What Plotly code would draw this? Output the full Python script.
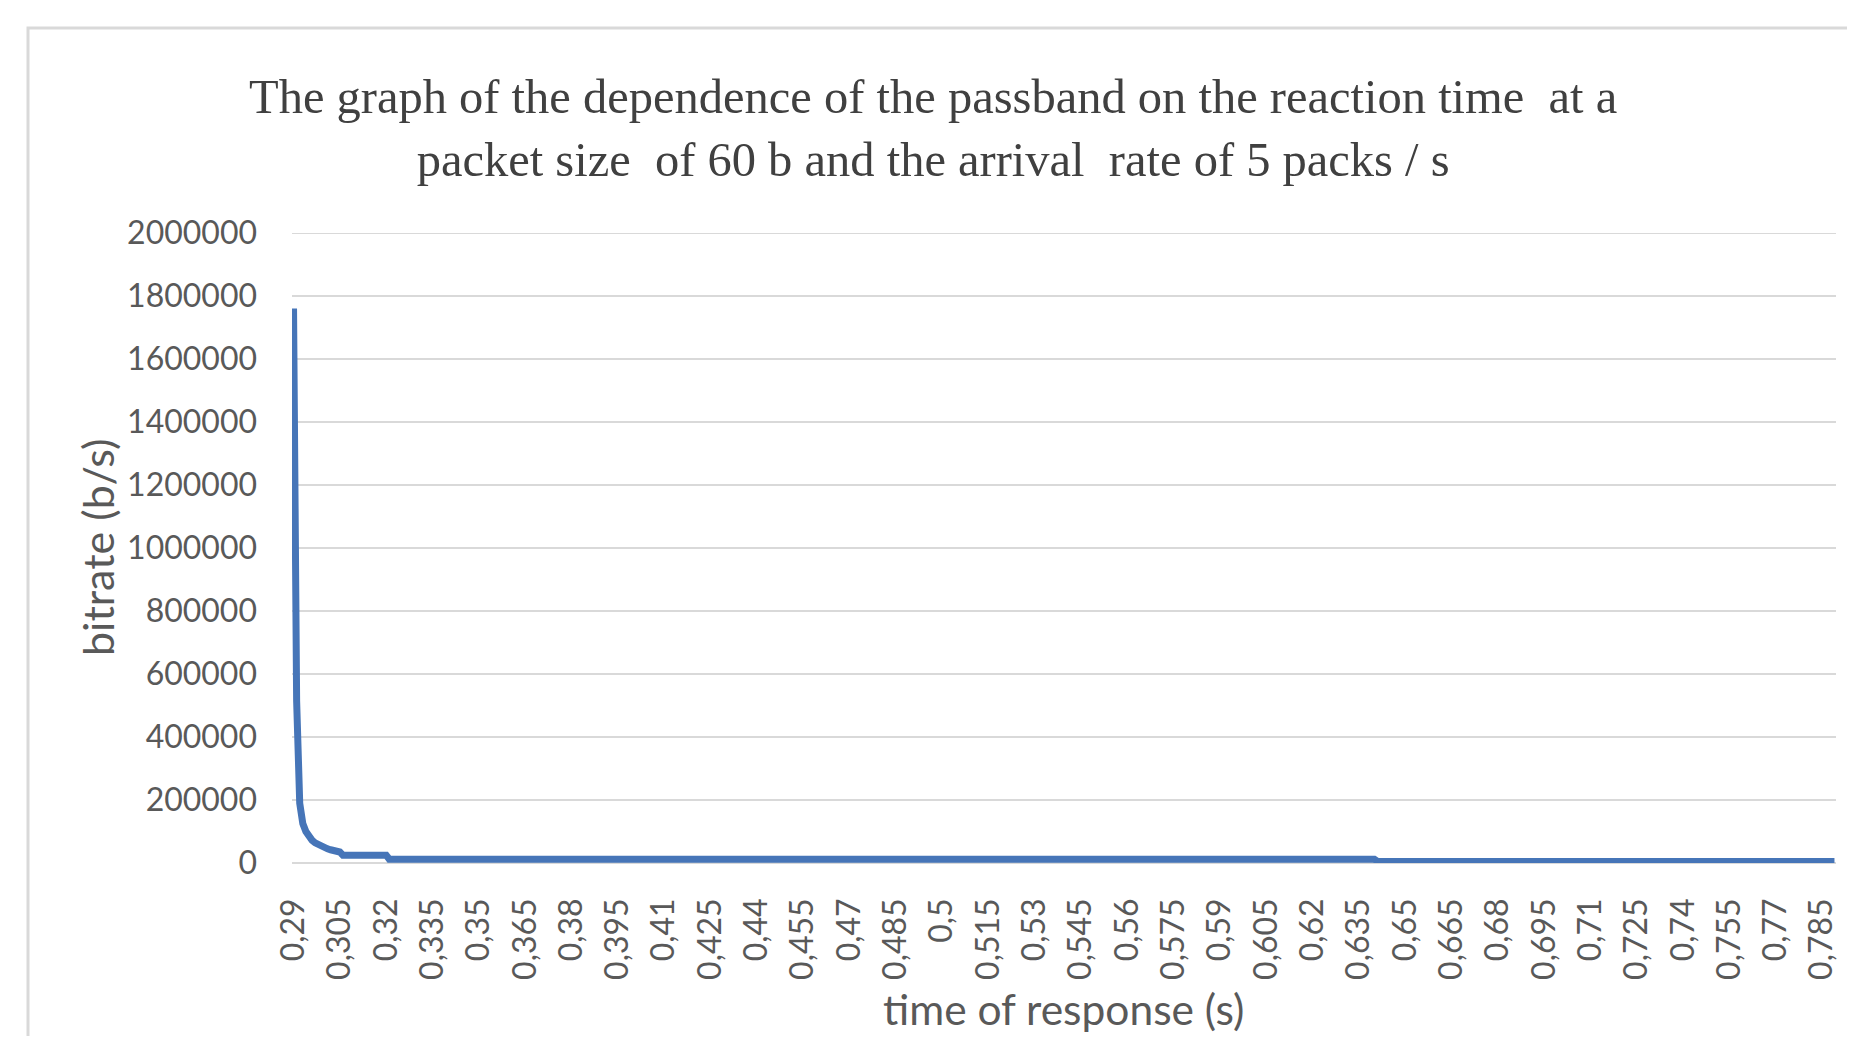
import plotly.graph_objects as go

# ---- data ----
time_s = [0.290, 0.291, 0.292, 0.293, 0.294, 0.295, 0.296, 0.297, 0.298, 0.299,
          0.300, 0.301, 0.302, 0.303, 0.304, 0.305, 0.306, 0.320, 0.321, 0.640,
          0.641, 0.789]
bitrate = [1760000, 515000, 190000, 125000, 100000, 83000, 72000, 64000, 58000, 53000,
           49000, 45000, 42000, 39000, 37000, 35000, 25000, 25000, 12000, 12000,
           5000, 5000]

x_tick_labels = ["0,29", "0,305", "0,32", "0,335", "0,35", "0,365", "0,38", "0,395",
                 "0,41", "0,425", "0,44", "0,455", "0,47", "0,485", "0,5", "0,515",
                 "0,53", "0,545", "0,56", "0,575", "0,59", "0,605", "0,62", "0,635",
                 "0,65", "0,665", "0,68", "0,695", "0,71", "0,725", "0,74", "0,755",
                 "0,77", "0,785"]
x_tick_vals = [float(s.replace(",", ".")) for s in x_tick_labels]

title_text = ("The graph of the dependence of the passband on the reaction time  at a<br>"
              "packet size  of 60 b and the arrival  rate of 5 packs / s")
x_title = "time of response (s)"
y_title = "bitrate (b/s)"

OFF = 8  # browser body margin
W, H = 1855 - 2 * OFF, 1044 - 2 * OFF
# plot area in page pixels, converted to figure pixels
L, R, T, B = 292 - OFF, 1836 - OFF, 233 - OFF, 863 - OFF


def px_x(p):
    return (p - OFF - L) / (R - L)


def px_y(p):
    return (B - (p - OFF)) / (B - T)


fig = go.Figure()
fig.add_trace(go.Scatter(
    x=time_s, y=bitrate, mode="lines",
    line=dict(color="#4675B8", width=7, shape="linear"),
    showlegend=False, hoverinfo="x+y", cliponaxis=False,
))

tick_font = dict(family="Lato, Open Sans, sans-serif", size=32, color="#595959")

fig.update_layout(
    width=W, height=H,
    margin=dict(l=L, r=W - R, t=T, b=H - B, pad=0, autoexpand=False),
    paper_bgcolor="white", plot_bgcolor="white",
    xaxis=dict(
        range=[0.2895, 0.7895], tickmode="array", automargin=False,
        tickvals=x_tick_vals, ticktext=x_tick_labels, tickangle=-90,
        showgrid=False, zeroline=False, showline=False,
        ticks="", ticklabelstandoff=28, tickfont=tick_font,
    ),
    yaxis=dict(
        range=[0, 2000000], dtick=200000, tick0=0, tickformat="d", automargin=False,
        showgrid=True, gridcolor="#D9D9D9", gridwidth=2,
        zeroline=True, zerolinecolor="#D9D9D9", zerolinewidth=2,
        showline=False, ticks="", ticklabelstandoff=34, tickfont=tick_font,
    ),
    annotations=[
        dict(text=title_text, xref="paper", yref="paper",
             x=px_x(933), y=px_y(128), xanchor="center", yanchor="middle",
             showarrow=False, align="center",
             font=dict(family="Liberation Serif, Times New Roman, serif", size=48.5, color="#404040")),
        dict(text=y_title, xref="paper", yref="paper",
             x=px_x(97), y=px_y(548), xanchor="center", yanchor="middle",
             textangle=-90, showarrow=False,
             font=dict(family="Lato, Open Sans, sans-serif", size=43, color="#595959")),
        dict(text=x_title, xref="paper", yref="paper",
             x=px_x(1063), y=px_y(1008), xanchor="center", yanchor="middle",
             showarrow=False,
             font=dict(family="Lato, Open Sans, sans-serif", size=42.5, color="#595959")),
    ],
    shapes=[
        dict(type="rect", xref="paper", yref="paper",
             x0=px_x(28), x1=px_x(1900), y0=px_y(1100), y1=px_y(28),
             line=dict(color="#D9D9D9", width=3), layer="below"),
        dict(type="line", xref="paper", yref="y",
             x0=0, x1=1, y0=2000000, y1=2000000,
             line=dict(color="#D9D9D9", width=2), layer="below"),
    ],
)

fig.write_html("out.html")
